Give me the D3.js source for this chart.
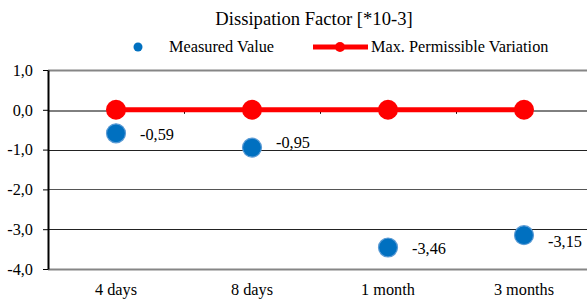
<!DOCTYPE html>
<html>
<head>
<meta charset="utf-8">
<script src="https://cdn.jsdelivr.net/npm/d3@7"></script>
<style>
  body { margin: 0; background: #fff; }
  svg { display: block; font-family: "Liberation Serif", "Times New Roman", serif; }
</style>
</head>
<body>
<div id="chart"></div>
<script>
// data
let categories = ['4 days', '8 days', '1 month', '3 months'];
let measured = [-0.59, -0.95, -3.46, -3.15];
let measuredLabels = ['-0,59', '-0,95', '-3,46', '-3,15'];
let permissible = [0, 0, 0, 0];
let yTicks = [1, 0, -1, -2, -3, -4];
let yTickLabels = ['1,0', '0,0', '-1,0', '-2,0', '-3,0', '-4,0'];

let w = 587;
let h = 299;
let plotLeft = 48, plotRight = 592, plotTop = 70, plotBottom = 269;
let fs = 16.3;

let svg = d3.select('#chart').append('svg').attr('width', w).attr('height', h);

let x = d3.scaleBand().domain(categories).range([plotLeft, plotRight]);
let y = d3.scaleLinear().domain([-4, 1]).range([plotBottom, plotTop]);
let cx = (d) => x(d) + x.bandwidth() / 2;

// title
svg.append('text')
  .attr('x', 314).attr('y', 25)
  .attr('text-anchor', 'middle')
  .attr('font-size', 18.6)
  .attr('fill', '#000')
  .text('Dissipation Factor [*10-3]');

// legend
let lg = svg.append('g');
lg.append('circle').attr('cx', 138).attr('cy', 47).attr('r', 4.5).attr('fill', '#0070c0');
lg.append('text').attr('x', 169).attr('y', 52).attr('font-size', fs).text('Measured Value');
lg.append('line').attr('x1', 313).attr('x2', 368).attr('y1', 47).attr('y2', 47)
  .attr('stroke', '#ff0000').attr('stroke-width', 5);
lg.append('circle').attr('cx', 340).attr('cy', 47).attr('r', 5).attr('fill', '#ff0000');
lg.append('text').attr('x', 371).attr('y', 52).attr('font-size', fs).text('Max. Permissible Variation');

// gridlines
svg.append('g').selectAll('line')
  .data(yTicks.filter(d => d !== 0))
  .enter().append('line')
  .attr('x1', plotLeft).attr('x2', w)
  .attr('y1', d => Math.round(y(d)) + 0.5).attr('y2', d => Math.round(y(d)) + 0.5)
  .attr('stroke', (d) => d === 1 || d === -4 ? '#868686' : (d === -2 ? '#555' : '#222'))
  .attr('stroke-width', (d) => d === 1 || d === -4 ? 2 : 1);

// y axis
let yAxis = d3.axisLeft(y)
  .tickValues(yTicks)
  .tickFormat((d, i) => yTickLabels[i])
  .tickSize(5)
  .tickSizeOuter(0)
  .tickPadding(10);
let ya = svg.append('g').attr('transform', `translate(${plotLeft},0)`).call(yAxis);
ya.select('.domain').attr('stroke', '#000').attr('stroke-width', 2);
ya.selectAll('.tick line').attr('stroke', '#000');
ya.selectAll('.tick text').attr('font-size', fs).attr('fill', '#000')
  .attr('font-family', '"Liberation Serif", "Times New Roman", serif');

// x axis at zero
let xAxis = d3.axisBottom(x).tickSize(0).tickFormat('');
let xa = svg.append('g').attr('transform', `translate(0,${Math.round(y(0)) + 0.5})`).call(xAxis);
xa.select('.domain').attr('stroke', '#000').attr('stroke-width', 1);
xa.selectAll('.tick').remove();
// small ticks between categories
svg.append('g').selectAll('line')
  .data(categories.slice(1))
  .enter().append('line')
  .attr('x1', d => x(d) + 0.5).attr('x2', d => x(d) + 0.5)
  .attr('y1', y(0)).attr('y2', y(0) + 4)
  .attr('stroke', '#000');

// category labels
svg.append('g').selectAll('text')
  .data(categories)
  .enter().append('text')
  .attr('x', d => cx(d)).attr('y', 295)
  .attr('text-anchor', 'middle')
  .attr('font-size', fs)
  .text(d => d);

// permissible line
let line = d3.line().x((d, i) => cx(categories[i])).y(d => y(d));
svg.append('path')
  .datum(permissible)
  .attr('d', line)
  .attr('fill', 'none')
  .attr('stroke', '#ff0000')
  .attr('stroke-width', 5);
svg.append('g').selectAll('circle')
  .data(permissible)
  .enter().append('circle')
  .attr('cx', (d, i) => cx(categories[i])).attr('cy', d => y(d))
  .attr('r', 10)
  .attr('fill', '#ff0000');

// measured points
svg.append('g').selectAll('circle')
  .data(measured)
  .enter().append('circle')
  .attr('cx', (d, i) => cx(categories[i])).attr('cy', d => y(d))
  .attr('r', 9.5)
  .attr('fill', '#0070c0')
  .attr('stroke', '#5b9bd5')
  .attr('stroke-width', 1.2);

let labelDy = [7, 0, 6.5, 12];
svg.append('g').selectAll('text')
  .data(measured)
  .enter().append('text')
  .attr('x', (d, i) => cx(categories[i]) + 24)
  .attr('y', (d, i) => y(d) + labelDy[i])
  .attr('font-size', fs)
  .text((d, i) => measuredLabels[i]);
</script>
</body>
</html>
